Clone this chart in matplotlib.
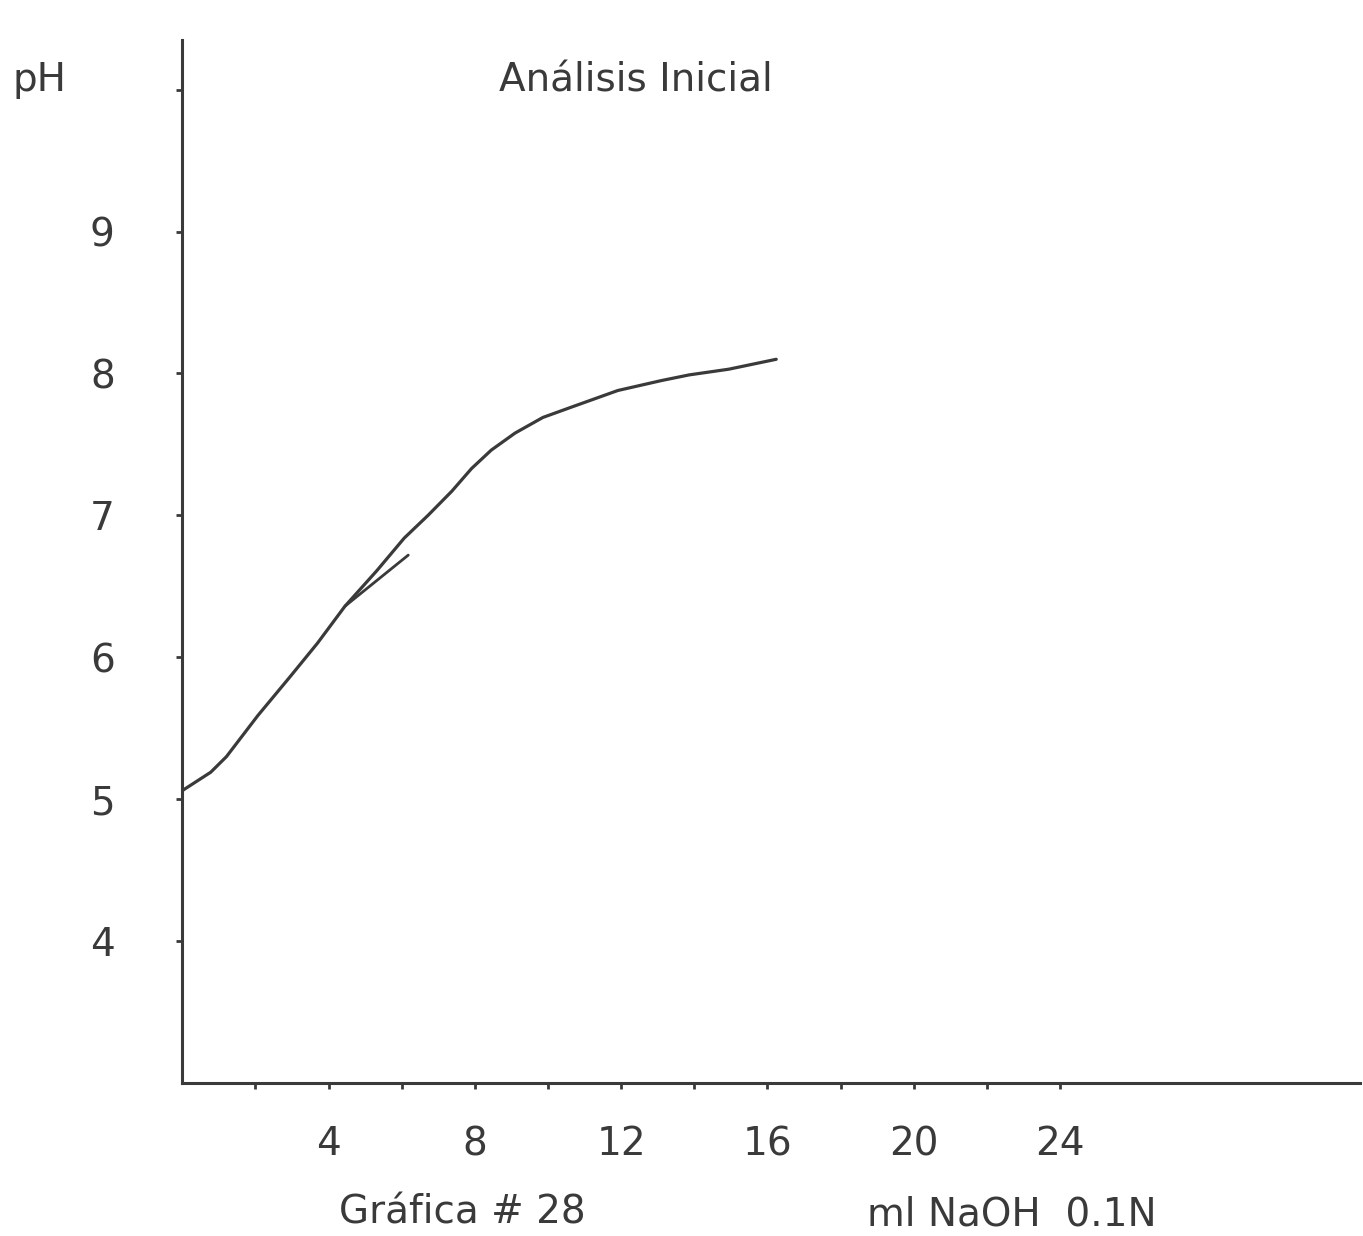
import numpy as np
import matplotlib
matplotlib.use('Agg')
from matplotlib import pyplot as plt

# Curva de titulacion
ml_naoh = [0.0, 0.78, 1.21, 2.07, 2.94, 3.70, 4.45, 5.32, 6.07, 6.72, 7.37,
           7.91, 8.45, 9.10, 9.86, 10.61, 11.91, 13.10, 13.86, 14.94, 16.24]
ph = [5.06, 5.19, 5.30, 5.59, 5.86, 6.10, 6.36, 6.61, 6.84, 7.00, 7.17,
      7.33, 7.46, 7.58, 7.69, 7.76, 7.88, 7.95, 7.99, 8.03, 8.10]

# Trazo corto (tangente) dibujado a mano
tang_ml = [4.45, 6.18]
tang_ph = [6.36, 6.72]

x_ticks = [2, 4, 6, 8, 10, 12, 14, 16, 18, 20, 22, 24]
x_labels = ['', '4', '', '8', '', '12', '', '16', '', '20', '', '24']
y_ticks = [4, 5, 6, 7, 8, 9, 10]
y_labels = ['4', '5', '6', '7', '8', '9', '']

W, H = 1363, 1236
ink = '#3a3a3a'
fs = 28

plt.rcParams['font.family'] = ['DejaVu Sans']

fig = plt.figure(figsize=(W / 100, H / 100), dpi=100)
ax = fig.add_axes([182.2 / W, 1 - 1083 / H, (1360 - 182.2) / W, (1083 - 40) / H])
ax.set_xlim(0, 32.2)
ax.set_ylim(3, 10.35)

ax.plot(ml_naoh, ph, color=ink, lw=2.3, solid_capstyle='round',
        solid_joinstyle='round')
ax.plot(tang_ml, tang_ph, color=ink, lw=2.0, solid_capstyle='round')

for s in ['top', 'right']:
    ax.spines[s].set_visible(False)
for s in ['left', 'bottom']:
    ax.spines[s].set_color(ink)
    ax.spines[s].set_linewidth(2.2)

ax.set_xticks(x_ticks)
ax.set_xticklabels(x_labels)
ax.set_yticks(y_ticks)
ax.set_yticklabels(y_labels)
ax.tick_params(axis='both', direction='out', length=4.5, width=2, color=ink,
               labelcolor=ink, labelsize=fs)
ax.tick_params(axis='y', pad=44)
ax.tick_params(axis='x', pad=26)

fig.text(40 / W, 1 - 80 / H, 'pH', fontsize=fs, color=ink, ha='center', va='center')
fig.text(636 / W, 1 - 80 / H, 'Análisis Inicial', fontsize=fs, color=ink,
         ha='center', va='center')
fig.text(462 / W, 1 - 1212 / H, 'Gráfica # 28', fontsize=fs, color=ink,
         ha='center', va='center')
fig.text(1012 / W, 1 - 1215 / H, 'ml NaOH  0.1N', fontsize=fs, color=ink,
         ha='center', va='center')

fig.savefig('out.png', dpi=100, facecolor='white')
